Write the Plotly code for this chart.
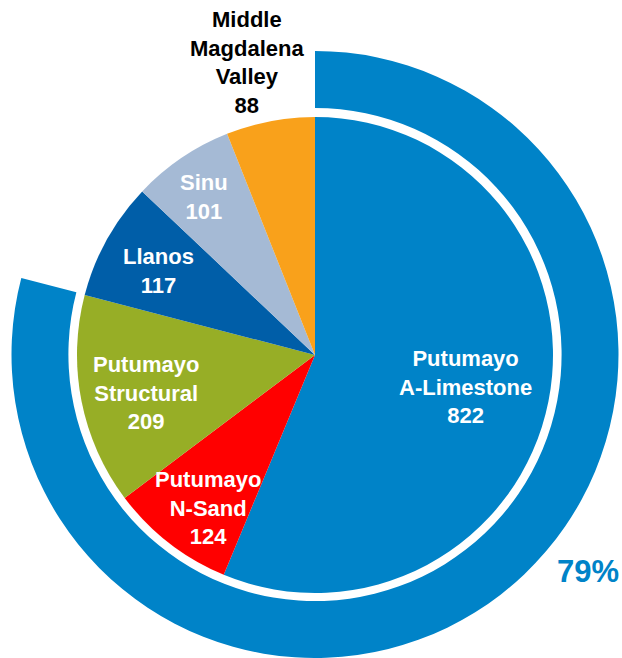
import plotly.graph_objects as go

# basins and prospective resources (slices, clockwise from 12 o'clock)
labels = ["Putumayo<br>A-Limestone", "Putumayo<br>N-Sand", "Putumayo<br>Structural",
          "Llanos", "Sinu", "Middle<br>Magdalena<br>Valley"]
values = [822, 124, 209, 117, 101, 88]
colors = ["#0083C8", "#FF0000", "#97AE26", "#005EA8", "#A5BAD5", "#F9A11B"]

# outer ring = Putumayo share
ring_values = [sum(values[:3]), sum(values[3:])]
ring_share = ring_values[0] / sum(ring_values)

W, H = 622, 658
cx, cy = 315, 355          # pie centre, pixels from top-left
r_ring, r_hole, r_pie = 304, 247, 238


def dom(r):
    return dict(x=[(cx - r) / W, (cx + r) / W],
                y=[max(0, (H - cy - r) / H), (H - cy + r) / H])


fig = go.Figure()
fig.add_trace(go.Pie(
    values=ring_values, sort=False, direction="clockwise", rotation=0,
    hole=r_hole / r_ring, domain=dom(r_ring),
    marker=dict(colors=["#0083C8", "rgba(0,0,0,0)"], line=dict(width=0)),
    textinfo="none", hoverinfo="skip", showlegend=False,
))
fig.add_trace(go.Pie(
    labels=labels, values=values, sort=False, direction="clockwise", rotation=0,
    domain=dom(r_pie),
    marker=dict(colors=colors, line=dict(width=0)),
    textinfo="none", hoverinfo="label+value", showlegend=False,
))

# label anchor points in pixels
pos = [(465, 387), (208, 508), (146, 393), (158, 271), (204, 197), (247, 62)]
font_col = ["white"] * 5 + ["black"]
for lab, v, (px, py), fc in zip(labels, values, pos, font_col):
    fig.add_annotation(
        x=px / W, y=1 - py / H, xref="paper", yref="paper",
        text=f"<b>{lab}<br>{v}</b>", showarrow=False,
        font=dict(family="Liberation Sans, Arial", size=22, color=fc),
        align="center", xanchor="center", yanchor="middle",
    )

fig.add_annotation(
    x=588 / W, y=1 - 571 / H, xref="paper", yref="paper",
    text=f"<b>{ring_share:.0%}</b>", showarrow=False,
    font=dict(family="Liberation Sans, Arial", size=31, color="#0083C8"),
    xanchor="center", yanchor="middle",
)

fig.update_layout(
    width=W, height=H,
    margin=dict(l=0, r=0, t=0, b=0),
    paper_bgcolor="white", plot_bgcolor="white",
)

# drop the browser's default 8px body margin so the figure sits at 0,0
fig.write_html("out.html", config={"displayModeBar": False},
               post_script="document.body.style.margin='0';")
